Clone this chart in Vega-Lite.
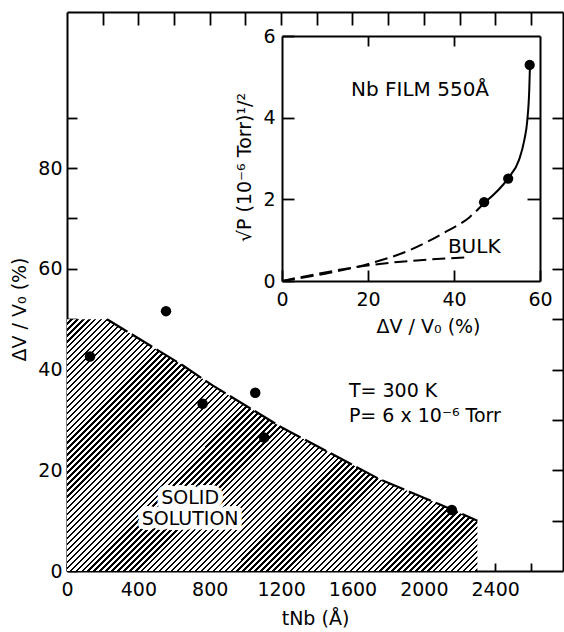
{
"$schema": "https://vega.github.io/schema/vega-lite/v6.json",
"width": 496, "height": 559,
"autosize": "none",
"padding": {"left": 67, "top": 12, "right": 1, "bottom": 61},
"background": "white",
"config": {
  "view": {"stroke": null},
  "font": "DejaVu Sans",
  "axis": {"grid": false, "domainColor": "black", "domainWidth": 2, "tickColor": "black", "tickWidth": 1.8, "labelColor": "black", "titleColor": "black", "labelFont": "DejaVu Sans", "titleFont": "DejaVu Sans", "labelFontSize": 19, "titleFontSize": 19, "titleFontWeight": "normal", "labelFlush": false, "labelOverlap": false}
},
"datasets": {
  "hatch": [{"t":0,"dv":50},{"t":224,"dv":50},{"t":650,"dv":40.8},{"t":818,"dv":36.8},{"t":1204,"dv":28.5},{"t":1748,"dv":18.3},{"t":2084,"dv":13.3},{"t":2300,"dv":10}],
  "boundary": [{"t":224,"dv":50},{"t":650,"dv":40.8},{"t":818,"dv":36.8},{"t":1204,"dv":28.5},{"t":1748,"dv":18.3},{"t":2084,"dv":13.3},{"t":2300,"dv":10}],
  "mainpts": [{"t":129,"dv":42.6},{"t":555,"dv":51.6},{"t":760,"dv":33.2},{"t":1055,"dv":35.4},{"t":1105,"dv":26.5},{"t":2157,"dv":12.1}],
  "region": [{"t":690,"dv":14.5,"label":"SOLID\nSOLUTION"}],
  "cond": [{"t":1580,"dv":35.8,"label":"T= 300 K"},{"t":1580,"dv":30.8,"label":"P= 6 x 10⁻⁶ Torr"}],
  "film": [{"dv":0,"sp":0},{"dv":10,"sp":0.18},{"dv":20.5,"sp":0.43},{"dv":29.8,"sp":0.76},{"dv":37.5,"sp":1.17},{"dv":43.7,"sp":1.57},{"dv":47.2,"sp":1.93}],
  "bulk": [{"dv":0,"sp":0},{"dv":10,"sp":0.21},{"dv":20.5,"sp":0.39},{"dv":32.1,"sp":0.51},{"dv":43.7,"sp":0.58}],
  "solid": [{"dv":47.2,"sp":1.93},{"dv":52.6,"sp":2.52},{"dv":55.1,"sp":2.96},{"dv":56.35,"sp":3.45},{"dv":57.05,"sp":3.94},{"dv":57.5,"sp":4.68},{"dv":57.67,"sp":5.29}],
  "insetpts": [{"dv":47.0,"sp":1.93},{"dv":52.6,"sp":2.51},{"dv":57.6,"sp":5.29}],
  "insettext": [{"dv":32.1,"sp":4.68,"label":"Nb FILM 550Å"},{"dv":44.7,"sp":0.83,"label":"BULK"}]
},
"layer": [
  {
    "layer": [
      {
        "data": {"name": "hatch"},
        "mark": {"type": "area", "fill": {"gradient": "linear", "x1": 0, "y1": 0, "x2": 1.1723, "y2": 0.7192, "stops": [
{"offset":0,"color":"#fff"},{"offset":0.0054,"color":"#fff"},{"offset":0.0054,"color":"#000"},{"offset":0.009,"color":"#000"},
{"offset":0.009,"color":"#fff"},{"offset":0.0144,"color":"#fff"},{"offset":0.0144,"color":"#000"},{"offset":0.018,"color":"#000"},
{"offset":0.018,"color":"#fff"},{"offset":0.0234,"color":"#fff"},{"offset":0.0234,"color":"#000"},{"offset":0.027,"color":"#000"},
{"offset":0.027,"color":"#fff"},{"offset":0.0324,"color":"#fff"},{"offset":0.0324,"color":"#000"},{"offset":0.036,"color":"#000"},
{"offset":0.036,"color":"#fff"},{"offset":0.0414,"color":"#fff"},{"offset":0.0414,"color":"#000"},{"offset":0.045,"color":"#000"},
{"offset":0.045,"color":"#fff"},{"offset":0.0504,"color":"#fff"},{"offset":0.0504,"color":"#000"},{"offset":0.054,"color":"#000"},
{"offset":0.054,"color":"#fff"},{"offset":0.0594,"color":"#fff"},{"offset":0.0594,"color":"#000"},{"offset":0.063,"color":"#000"},
{"offset":0.063,"color":"#fff"},{"offset":0.0684,"color":"#fff"},{"offset":0.0684,"color":"#000"},{"offset":0.072,"color":"#000"},
{"offset":0.072,"color":"#fff"},{"offset":0.0774,"color":"#fff"},{"offset":0.0774,"color":"#000"},{"offset":0.081,"color":"#000"},
{"offset":0.081,"color":"#fff"},{"offset":0.0864,"color":"#fff"},{"offset":0.0864,"color":"#000"},{"offset":0.09,"color":"#000"},
{"offset":0.09,"color":"#fff"},{"offset":0.0954,"color":"#fff"},{"offset":0.0954,"color":"#000"},{"offset":0.099,"color":"#000"},
{"offset":0.099,"color":"#fff"},{"offset":0.1044,"color":"#fff"},{"offset":0.1044,"color":"#000"},{"offset":0.108,"color":"#000"},
{"offset":0.108,"color":"#fff"},{"offset":0.1134,"color":"#fff"},{"offset":0.1134,"color":"#000"},{"offset":0.117,"color":"#000"},
{"offset":0.117,"color":"#fff"},{"offset":0.1224,"color":"#fff"},{"offset":0.1224,"color":"#000"},{"offset":0.126,"color":"#000"},
{"offset":0.126,"color":"#fff"},{"offset":0.1314,"color":"#fff"},{"offset":0.1314,"color":"#000"},{"offset":0.135,"color":"#000"},
{"offset":0.135,"color":"#fff"},{"offset":0.1404,"color":"#fff"},{"offset":0.1404,"color":"#000"},{"offset":0.144,"color":"#000"},
{"offset":0.144,"color":"#fff"},{"offset":0.1494,"color":"#fff"},{"offset":0.1494,"color":"#000"},{"offset":0.153,"color":"#000"},
{"offset":0.153,"color":"#fff"},{"offset":0.1584,"color":"#fff"},{"offset":0.1584,"color":"#000"},{"offset":0.162,"color":"#000"},
{"offset":0.162,"color":"#fff"},{"offset":0.1674,"color":"#fff"},{"offset":0.1674,"color":"#000"},{"offset":0.171,"color":"#000"},
{"offset":0.171,"color":"#fff"},{"offset":0.1764,"color":"#fff"},{"offset":0.1764,"color":"#000"},{"offset":0.18,"color":"#000"},
{"offset":0.18,"color":"#fff"},{"offset":0.1854,"color":"#fff"},{"offset":0.1854,"color":"#000"},{"offset":0.189,"color":"#000"},
{"offset":0.189,"color":"#fff"},{"offset":0.1944,"color":"#fff"},{"offset":0.1944,"color":"#000"},{"offset":0.198,"color":"#000"},
{"offset":0.198,"color":"#fff"},{"offset":0.2034,"color":"#fff"},{"offset":0.2034,"color":"#000"},{"offset":0.207,"color":"#000"},
{"offset":0.207,"color":"#fff"},{"offset":0.2124,"color":"#fff"},{"offset":0.2124,"color":"#000"},{"offset":0.216,"color":"#000"},
{"offset":0.216,"color":"#fff"},{"offset":0.2214,"color":"#fff"},{"offset":0.2214,"color":"#000"},{"offset":0.225,"color":"#000"},
{"offset":0.225,"color":"#fff"},{"offset":0.2304,"color":"#fff"},{"offset":0.2304,"color":"#000"},{"offset":0.234,"color":"#000"},
{"offset":0.234,"color":"#fff"},{"offset":0.2394,"color":"#fff"},{"offset":0.2394,"color":"#000"},{"offset":0.243,"color":"#000"},
{"offset":0.243,"color":"#fff"},{"offset":0.2484,"color":"#fff"},{"offset":0.2484,"color":"#000"},{"offset":0.252,"color":"#000"},
{"offset":0.252,"color":"#fff"},{"offset":0.2574,"color":"#fff"},{"offset":0.2574,"color":"#000"},{"offset":0.261,"color":"#000"},
{"offset":0.261,"color":"#fff"},{"offset":0.2664,"color":"#fff"},{"offset":0.2664,"color":"#000"},{"offset":0.27,"color":"#000"},
{"offset":0.27,"color":"#fff"},{"offset":0.2754,"color":"#fff"},{"offset":0.2754,"color":"#000"},{"offset":0.279,"color":"#000"},
{"offset":0.279,"color":"#fff"},{"offset":0.2844,"color":"#fff"},{"offset":0.2844,"color":"#000"},{"offset":0.288,"color":"#000"},
{"offset":0.288,"color":"#fff"},{"offset":0.2934,"color":"#fff"},{"offset":0.2934,"color":"#000"},{"offset":0.297,"color":"#000"},
{"offset":0.297,"color":"#fff"},{"offset":0.3024,"color":"#fff"},{"offset":0.3024,"color":"#000"},{"offset":0.306,"color":"#000"},
{"offset":0.306,"color":"#fff"},{"offset":0.3114,"color":"#fff"},{"offset":0.3114,"color":"#000"},{"offset":0.315,"color":"#000"},
{"offset":0.315,"color":"#fff"},{"offset":0.3204,"color":"#fff"},{"offset":0.3204,"color":"#000"},{"offset":0.324,"color":"#000"},
{"offset":0.324,"color":"#fff"},{"offset":0.3294,"color":"#fff"},{"offset":0.3294,"color":"#000"},{"offset":0.333,"color":"#000"},
{"offset":0.333,"color":"#fff"},{"offset":0.3384,"color":"#fff"},{"offset":0.3384,"color":"#000"},{"offset":0.342,"color":"#000"},
{"offset":0.342,"color":"#fff"},{"offset":0.3474,"color":"#fff"},{"offset":0.3474,"color":"#000"},{"offset":0.351,"color":"#000"},
{"offset":0.351,"color":"#fff"},{"offset":0.3564,"color":"#fff"},{"offset":0.3564,"color":"#000"},{"offset":0.36,"color":"#000"},
{"offset":0.36,"color":"#fff"},{"offset":0.3654,"color":"#fff"},{"offset":0.3654,"color":"#000"},{"offset":0.369,"color":"#000"},
{"offset":0.369,"color":"#fff"},{"offset":0.3744,"color":"#fff"},{"offset":0.3744,"color":"#000"},{"offset":0.378,"color":"#000"},
{"offset":0.378,"color":"#fff"},{"offset":0.3834,"color":"#fff"},{"offset":0.3834,"color":"#000"},{"offset":0.387,"color":"#000"},
{"offset":0.387,"color":"#fff"},{"offset":0.3924,"color":"#fff"},{"offset":0.3924,"color":"#000"},{"offset":0.396,"color":"#000"},
{"offset":0.396,"color":"#fff"},{"offset":0.4014,"color":"#fff"},{"offset":0.4014,"color":"#000"},{"offset":0.405,"color":"#000"},
{"offset":0.405,"color":"#fff"},{"offset":0.4104,"color":"#fff"},{"offset":0.4104,"color":"#000"},{"offset":0.414,"color":"#000"},
{"offset":0.414,"color":"#fff"},{"offset":0.4194,"color":"#fff"},{"offset":0.4194,"color":"#000"},{"offset":0.423,"color":"#000"},
{"offset":0.423,"color":"#fff"},{"offset":0.4284,"color":"#fff"},{"offset":0.4284,"color":"#000"},{"offset":0.432,"color":"#000"},
{"offset":0.432,"color":"#fff"},{"offset":0.4374,"color":"#fff"},{"offset":0.4374,"color":"#000"},{"offset":0.441,"color":"#000"},
{"offset":0.441,"color":"#fff"},{"offset":0.4464,"color":"#fff"},{"offset":0.4464,"color":"#000"},{"offset":0.45,"color":"#000"},
{"offset":0.45,"color":"#fff"},{"offset":0.4554,"color":"#fff"},{"offset":0.4554,"color":"#000"},{"offset":0.459,"color":"#000"},
{"offset":0.459,"color":"#fff"},{"offset":0.4644,"color":"#fff"},{"offset":0.4644,"color":"#000"},{"offset":0.468,"color":"#000"},
{"offset":0.468,"color":"#fff"},{"offset":0.4734,"color":"#fff"},{"offset":0.4734,"color":"#000"},{"offset":0.477,"color":"#000"},
{"offset":0.477,"color":"#fff"},{"offset":0.4824,"color":"#fff"},{"offset":0.4824,"color":"#000"},{"offset":0.486,"color":"#000"},
{"offset":0.486,"color":"#fff"},{"offset":0.4914,"color":"#fff"},{"offset":0.4914,"color":"#000"},{"offset":0.495,"color":"#000"},
{"offset":0.495,"color":"#fff"},{"offset":0.5004,"color":"#fff"},{"offset":0.5004,"color":"#000"},{"offset":0.504,"color":"#000"},
{"offset":0.504,"color":"#fff"},{"offset":0.5094,"color":"#fff"},{"offset":0.5094,"color":"#000"},{"offset":0.513,"color":"#000"},
{"offset":0.513,"color":"#fff"},{"offset":0.5184,"color":"#fff"},{"offset":0.5184,"color":"#000"},{"offset":0.522,"color":"#000"},
{"offset":0.522,"color":"#fff"},{"offset":0.5274,"color":"#fff"},{"offset":0.5274,"color":"#000"},{"offset":0.531,"color":"#000"},
{"offset":0.531,"color":"#fff"},{"offset":0.5364,"color":"#fff"},{"offset":0.5364,"color":"#000"},{"offset":0.54,"color":"#000"},
{"offset":0.54,"color":"#fff"},{"offset":0.5454,"color":"#fff"},{"offset":0.5454,"color":"#000"},{"offset":0.549,"color":"#000"},
{"offset":0.549,"color":"#fff"},{"offset":0.5544,"color":"#fff"},{"offset":0.5544,"color":"#000"},{"offset":0.558,"color":"#000"},
{"offset":0.558,"color":"#fff"},{"offset":0.5634,"color":"#fff"},{"offset":0.5634,"color":"#000"},{"offset":0.567,"color":"#000"},
{"offset":0.567,"color":"#fff"},{"offset":0.5724,"color":"#fff"},{"offset":0.5724,"color":"#000"},{"offset":0.576,"color":"#000"},
{"offset":0.576,"color":"#fff"},{"offset":0.5814,"color":"#fff"},{"offset":0.5814,"color":"#000"},{"offset":0.585,"color":"#000"},
{"offset":0.585,"color":"#fff"},{"offset":0.5904,"color":"#fff"},{"offset":0.5904,"color":"#000"},{"offset":0.594,"color":"#000"},
{"offset":0.594,"color":"#fff"},{"offset":0.5994,"color":"#fff"},{"offset":0.5994,"color":"#000"},{"offset":0.603,"color":"#000"},
{"offset":0.603,"color":"#fff"},{"offset":0.6084,"color":"#fff"},{"offset":0.6084,"color":"#000"},{"offset":0.612,"color":"#000"},
{"offset":0.612,"color":"#fff"},{"offset":0.6174,"color":"#fff"},{"offset":0.6174,"color":"#000"},{"offset":0.621,"color":"#000"},
{"offset":0.621,"color":"#fff"},{"offset":0.6264,"color":"#fff"},{"offset":0.6264,"color":"#000"},{"offset":0.63,"color":"#000"},
{"offset":0.63,"color":"#fff"},{"offset":0.6354,"color":"#fff"},{"offset":0.6354,"color":"#000"},{"offset":0.639,"color":"#000"},
{"offset":0.639,"color":"#fff"},{"offset":0.6444,"color":"#fff"},{"offset":0.6444,"color":"#000"},{"offset":0.648,"color":"#000"},
{"offset":0.648,"color":"#fff"},{"offset":0.6534,"color":"#fff"},{"offset":0.6534,"color":"#000"},{"offset":0.657,"color":"#000"},
{"offset":0.657,"color":"#fff"},{"offset":0.6624,"color":"#fff"},{"offset":0.6624,"color":"#000"},{"offset":0.666,"color":"#000"},
{"offset":0.666,"color":"#fff"},{"offset":0.6714,"color":"#fff"},{"offset":0.6714,"color":"#000"},{"offset":0.675,"color":"#000"},
{"offset":0.675,"color":"#fff"},{"offset":0.6804,"color":"#fff"},{"offset":0.6804,"color":"#000"},{"offset":0.684,"color":"#000"},
{"offset":0.684,"color":"#fff"},{"offset":0.6894,"color":"#fff"},{"offset":0.6894,"color":"#000"},{"offset":0.693,"color":"#000"},
{"offset":0.693,"color":"#fff"},{"offset":0.6984,"color":"#fff"},{"offset":0.6984,"color":"#000"},{"offset":0.702,"color":"#000"},
{"offset":0.702,"color":"#fff"},{"offset":0.7074,"color":"#fff"},{"offset":0.7074,"color":"#000"},{"offset":0.711,"color":"#000"},
{"offset":0.711,"color":"#fff"},{"offset":0.7164,"color":"#fff"},{"offset":0.7164,"color":"#000"},{"offset":0.72,"color":"#000"},
{"offset":0.72,"color":"#fff"},{"offset":0.7254,"color":"#fff"},{"offset":0.7254,"color":"#000"},{"offset":0.729,"color":"#000"},
{"offset":0.729,"color":"#fff"},{"offset":0.7344,"color":"#fff"},{"offset":0.7344,"color":"#000"},{"offset":0.738,"color":"#000"},
{"offset":0.738,"color":"#fff"},{"offset":0.7434,"color":"#fff"},{"offset":0.7434,"color":"#000"},{"offset":0.747,"color":"#000"},
{"offset":0.747,"color":"#fff"},{"offset":0.7524,"color":"#fff"},{"offset":0.7524,"color":"#000"},{"offset":0.756,"color":"#000"},
{"offset":0.756,"color":"#fff"},{"offset":0.7614,"color":"#fff"},{"offset":0.7614,"color":"#000"},{"offset":0.765,"color":"#000"},
{"offset":0.765,"color":"#fff"},{"offset":0.7704,"color":"#fff"},{"offset":0.7704,"color":"#000"},{"offset":0.774,"color":"#000"},
{"offset":0.774,"color":"#fff"},{"offset":0.7794,"color":"#fff"},{"offset":0.7794,"color":"#000"},{"offset":0.783,"color":"#000"},
{"offset":0.783,"color":"#fff"},{"offset":0.7884,"color":"#fff"},{"offset":0.7884,"color":"#000"},{"offset":0.792,"color":"#000"},
{"offset":0.792,"color":"#fff"},{"offset":0.7974,"color":"#fff"},{"offset":0.7974,"color":"#000"},{"offset":0.801,"color":"#000"},
{"offset":0.801,"color":"#fff"},{"offset":0.8064,"color":"#fff"},{"offset":0.8064,"color":"#000"},{"offset":0.81,"color":"#000"},
{"offset":0.81,"color":"#fff"},{"offset":0.8154,"color":"#fff"},{"offset":0.8154,"color":"#000"},{"offset":0.819,"color":"#000"},
{"offset":0.819,"color":"#fff"},{"offset":0.8244,"color":"#fff"},{"offset":0.8244,"color":"#000"},{"offset":0.828,"color":"#000"},
{"offset":0.828,"color":"#fff"},{"offset":0.8334,"color":"#fff"},{"offset":0.8334,"color":"#000"},{"offset":0.837,"color":"#000"},
{"offset":0.837,"color":"#fff"},{"offset":0.8424,"color":"#fff"},{"offset":0.8424,"color":"#000"},{"offset":0.846,"color":"#000"},
{"offset":0.846,"color":"#fff"},{"offset":0.8514,"color":"#fff"},{"offset":0.8514,"color":"#000"},{"offset":0.855,"color":"#000"},
{"offset":0.855,"color":"#fff"},{"offset":0.8604,"color":"#fff"},{"offset":0.8604,"color":"#000"},{"offset":0.864,"color":"#000"},
{"offset":0.864,"color":"#fff"},{"offset":0.8694,"color":"#fff"},{"offset":0.8694,"color":"#000"},{"offset":0.873,"color":"#000"},
{"offset":0.873,"color":"#fff"},{"offset":0.8784,"color":"#fff"},{"offset":0.8784,"color":"#000"},{"offset":0.882,"color":"#000"},
{"offset":0.882,"color":"#fff"},{"offset":0.8874,"color":"#fff"},{"offset":0.8874,"color":"#000"},{"offset":0.891,"color":"#000"},
{"offset":0.891,"color":"#fff"},{"offset":0.8964,"color":"#fff"},{"offset":0.8964,"color":"#000"},{"offset":0.9,"color":"#000"},
{"offset":0.9,"color":"#fff"},{"offset":0.9054,"color":"#fff"},{"offset":0.9054,"color":"#000"},{"offset":0.909,"color":"#000"},
{"offset":0.909,"color":"#fff"},{"offset":0.9144,"color":"#fff"},{"offset":0.9144,"color":"#000"},{"offset":0.918,"color":"#000"},
{"offset":0.918,"color":"#fff"},{"offset":0.9234,"color":"#fff"},{"offset":0.9234,"color":"#000"},{"offset":0.927,"color":"#000"},
{"offset":0.927,"color":"#fff"},{"offset":0.9324,"color":"#fff"},{"offset":0.9324,"color":"#000"},{"offset":0.936,"color":"#000"},
{"offset":0.936,"color":"#fff"},{"offset":0.9414,"color":"#fff"},{"offset":0.9414,"color":"#000"},{"offset":0.945,"color":"#000"},
{"offset":0.945,"color":"#fff"},{"offset":0.9504,"color":"#fff"},{"offset":0.9504,"color":"#000"},{"offset":0.954,"color":"#000"},
{"offset":0.954,"color":"#fff"},{"offset":0.9594,"color":"#fff"},{"offset":0.9594,"color":"#000"},{"offset":0.963,"color":"#000"},
{"offset":0.963,"color":"#fff"},{"offset":0.9684,"color":"#fff"},{"offset":0.9684,"color":"#000"},{"offset":0.972,"color":"#000"},
{"offset":0.972,"color":"#fff"},{"offset":0.9774,"color":"#fff"},{"offset":0.9774,"color":"#000"},{"offset":0.981,"color":"#000"},
{"offset":0.981,"color":"#fff"},{"offset":0.9864,"color":"#fff"},{"offset":0.9864,"color":"#000"},{"offset":0.99,"color":"#000"},
{"offset":0.99,"color":"#fff"},{"offset":0.9954,"color":"#fff"},{"offset":0.9954,"color":"#000"},{"offset":0.999,"color":"#000"}
        ]}},
        "encoding": {
          "x": {"field": "t", "type": "quantitative", "scale": {"domain": [0, 2780], "nice": false, "zero": false},
                "axis": {"orient": "bottom", "values": [0,200,400,600,800,1000,1200,1400,1600,1800,2000,2200,2400,2600], "format": "d", "labelExpr": "datum.value % 400 === 0 ? datum.label : ''", "tickSize": -8, "labelPadding": 17, "title": "tNb (Å)", "titlePadding": 10}},
          "y": {"field": "dv", "type": "quantitative", "scale": {"domain": [0, 111], "nice": false, "zero": false},
                "axis": {"orient": "left", "values": [0,10,20,30,40,50,60,70,80,90], "format": "d", "labelExpr": "datum.value % 20 === 0 ? datum.label : ''", "tickSize": -10, "labelPadding": 15, "title": "ΔV / V₀ (%)", "titlePadding": 8, "titleY": 297}}
        }
      },
      {
        "data": {"name": "boundary"},
        "mark": {"type": "line", "color": "black", "strokeWidth": 2.2, "strokeDash": [24, 5]},
        "encoding": {
          "x": {"field": "t", "type": "quantitative", "scale": {"domain": [0, 2780], "nice": false, "zero": false},
                "axis": {"orient": "top", "values": [200,400,600,800,1000,1200,1400,1600,1800,2000,2200,2400,2600], "labels": false, "tickSize": -13, "title": null}},
          "y": {"field": "dv", "type": "quantitative", "scale": {"domain": [0, 111], "nice": false, "zero": false},
                "axis": {"orient": "right", "values": [10,20,30,40,50,60,70,80,90], "labels": false, "tickSize": -11, "title": null}}
        }
      },
      {
        "data": {"name": "mainpts"},
        "mark": {"type": "point", "filled": true, "color": "black", "opacity": 1, "size": 110},
        "encoding": {
          "x": {"field": "t", "type": "quantitative", "scale": {"domain": [0, 2780], "nice": false, "zero": false}, "axis": null},
          "y": {"field": "dv", "type": "quantitative", "scale": {"domain": [0, 111], "nice": false, "zero": false}, "axis": null}
        }
      },
      {
        "data": {"name": "region"},
        "mark": {"type": "text", "lineBreak": "\n", "lineHeight": 21, "fontSize": 19, "align": "center", "baseline": "middle", "fill": "white", "stroke": "white", "strokeWidth": 10, "strokeJoin": "round"},
        "encoding": {
          "x": {"field": "t", "type": "quantitative", "scale": {"domain": [0, 2780], "nice": false, "zero": false}, "axis": null},
          "y": {"field": "dv", "type": "quantitative", "scale": {"domain": [0, 111], "nice": false, "zero": false}, "axis": null},
          "text": {"field": "label"}
        }
      },
      {
        "data": {"name": "region"},
        "mark": {"type": "text", "lineBreak": "\n", "lineHeight": 21, "fontSize": 19, "align": "center", "baseline": "middle", "fill": "black"},
        "encoding": {
          "x": {"field": "t", "type": "quantitative", "scale": {"domain": [0, 2780], "nice": false, "zero": false}, "axis": null},
          "y": {"field": "dv", "type": "quantitative", "scale": {"domain": [0, 111], "nice": false, "zero": false}, "axis": null},
          "text": {"field": "label"}
        }
      },
      {
        "data": {"name": "cond"},
        "mark": {"type": "text", "fontSize": 19, "align": "left", "baseline": "middle", "fill": "black"},
        "encoding": {
          "x": {"field": "t", "type": "quantitative", "scale": {"domain": [0, 2780], "nice": false, "zero": false}, "axis": null},
          "y": {"field": "dv", "type": "quantitative", "scale": {"domain": [0, 111], "nice": false, "zero": false}, "axis": null},
          "text": {"field": "label"}
        }
      }
    ],
    "resolve": {"axis": {"x": "independent", "y": "independent"}}
  },
  {
    "layer": [
      {
        "data": {"name": "film"},
        "mark": {"type": "line", "color": "black", "strokeWidth": 2, "strokeDash": [13, 6], "interpolate": "monotone"},
        "encoding": {
          "x": {"field": "dv", "type": "quantitative", "scale": {"domain": [0, 60], "range": [215, 473], "nice": false, "zero": false},
                "axis": {"orient": "bottom", "offset": -290, "values": [0,20,40,60], "format": "d", "tickSize": -11, "labelPadding": 20, "title": "ΔV / V₀ (%)", "titlePadding": 8, "titleX": 361}},
          "y": {"field": "sp", "type": "quantitative", "scale": {"domain": [0, 6], "range": [269, 24], "nice": false, "zero": false},
                "axis": {"orient": "left", "offset": -215, "values": [0,2,4,6], "format": "d", "tickSize": -12, "labelPadding": 19, "title": "√P (10⁻⁶ Torr)¹/²", "titlePadding": 8, "titleY": 155}}
        }
      },
      {
        "data": {"name": "bulk"},
        "mark": {"type": "line", "color": "black", "strokeWidth": 2, "strokeDash": [13, 6], "interpolate": "monotone"},
        "encoding": {
          "x": {"field": "dv", "type": "quantitative", "scale": {"domain": [0, 60], "range": [215, 473], "nice": false, "zero": false},
                "axis": {"orient": "top", "offset": -24, "values": [20,40], "labels": false, "tickSize": -10, "title": null}},
          "y": {"field": "sp", "type": "quantitative", "scale": {"domain": [0, 6], "range": [269, 24], "nice": false, "zero": false},
                "axis": {"orient": "right", "offset": -23, "values": [2,4], "labels": false, "tickSize": -13, "title": null}}
        }
      },
      {
        "data": {"name": "solid"},
        "mark": {"type": "line", "color": "black", "strokeWidth": 2, "interpolate": "monotone"},
        "encoding": {
          "x": {"field": "dv", "type": "quantitative", "scale": {"domain": [0, 60], "range": [215, 473], "nice": false, "zero": false}, "axis": null},
          "y": {"field": "sp", "type": "quantitative", "scale": {"domain": [0, 6], "range": [269, 24], "nice": false, "zero": false}, "axis": null}
        }
      },
      {
        "data": {"name": "insetpts"},
        "mark": {"type": "point", "filled": true, "color": "black", "opacity": 1, "size": 105},
        "encoding": {
          "x": {"field": "dv", "type": "quantitative", "scale": {"domain": [0, 60], "range": [215, 473], "nice": false, "zero": false}, "axis": null},
          "y": {"field": "sp", "type": "quantitative", "scale": {"domain": [0, 6], "range": [269, 24], "nice": false, "zero": false}, "axis": null}
        }
      },
      {
        "data": {"name": "insettext"},
        "mark": {"type": "text", "fontSize": 20, "align": "center", "baseline": "middle", "fill": "black"},
        "encoding": {
          "x": {"field": "dv", "type": "quantitative", "scale": {"domain": [0, 60], "range": [215, 473], "nice": false, "zero": false}, "axis": null},
          "y": {"field": "sp", "type": "quantitative", "scale": {"domain": [0, 6], "range": [269, 24], "nice": false, "zero": false}, "axis": null},
          "text": {"field": "label"}
        }
      }
    ],
    "resolve": {"axis": {"x": "independent", "y": "independent"}}
  }
],
"resolve": {"scale": {"x": "independent", "y": "independent"}, "axis": {"x": "independent", "y": "independent"}}
}
